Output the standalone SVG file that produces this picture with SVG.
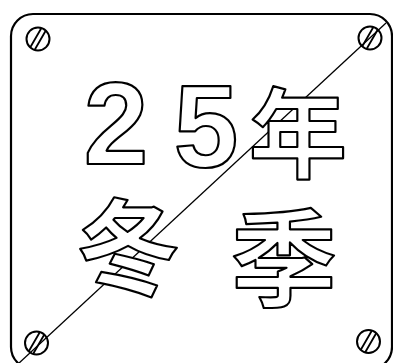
<svg xmlns="http://www.w3.org/2000/svg" width="393" height="363" viewBox="0 0 393 363">
  <style>
    .plate { fill: #fff; stroke: #000; stroke-width: 2.2; }
    .screw { fill: none; stroke: #000; stroke-width: 2; }
    .slot { stroke: #000; stroke-width: 1.8; stroke-linecap: round; }
    .conn { stroke: #000; stroke-width: 1.3; fill: none; }
    .glyph { fill: #fff; stroke: #000; stroke-width: 2.2; stroke-linejoin: round; }
    .num { font-family: "Liberation Sans", Arial, sans-serif; font-weight: bold; }
    .cjk { font-family: "Noto Sans CJK SC", "Noto Sans CJK JP", sans-serif; font-weight: bold; }
  </style>
  <defs>
    <g id="screwShape">
      <circle class="screw" cx="0" cy="0" r="11.5"/>
      <line class="slot" x1="-7.4" y1="7.8" x2="3.0" y2="-10.3"/>
      <line class="slot" x1="-3.0" y1="10.3" x2="7.4" y2="-7.8"/>
    </g>
  </defs>
  <rect width="393" height="363" fill="#fff"/>
  <g id="plate">
    <rect class="plate" x="11" y="14" width="381" height="355" rx="22" ry="22"/>
  </g>
  <g id="screw-tl"><use href="#screwShape" x="38" y="39"/></g>
  <g id="screw-tr"><use href="#screwShape" x="370" y="38"/></g>
  <g id="screw-bl"><use href="#screwShape" x="36.5" y="343"/></g>
  <g id="screw-br"><use href="#screwShape" x="368.5" y="341.5"/></g>
  <g id="connectors">
    <line class="conn" x1="18" y1="364" x2="386" y2="23"/>
  </g>
  <g id="text-2"><text class="glyph num" x="116" y="164" font-size="116" text-anchor="middle">2</text></g>
  <g id="text-5"><text class="glyph num" x="206" y="167" font-size="116" text-anchor="middle">5</text></g>
  <g id="text-nian"><text class="glyph cjk" x="298" y="170" font-size="98" text-anchor="middle">年</text></g>
  <g id="text-dong"><text class="glyph cjk" x="128" y="287" font-size="104" text-anchor="middle">冬</text></g>
  <g id="text-ji"><text class="glyph cjk" x="284" y="298" font-size="106" text-anchor="middle">季</text></g>
</svg>
